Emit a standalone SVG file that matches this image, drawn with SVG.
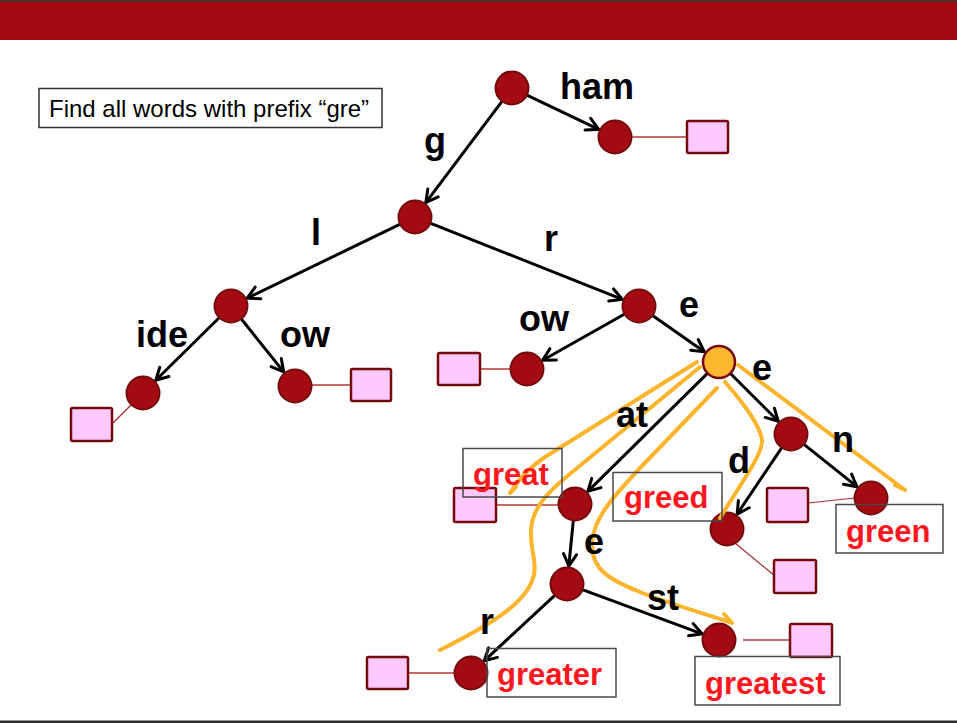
<svg xmlns="http://www.w3.org/2000/svg" width="957" height="723" viewBox="0 0 957 723">
  <style>
    .node { fill: #A30A12; stroke: #740A0C; stroke-width: 2; }
    .cur { fill: #FCB72E; stroke: #740A0C; stroke-width: 2.5; }
    .leaf { fill: #FFC8FF; stroke: #740A0C; stroke-width: 2.5; }
    .link { stroke: #CC6A6A; stroke-width: 2; fill: none; }
    .thin { stroke: #A8282C; stroke-width: 1.2; fill: none; }
    .edge { stroke: #000; stroke-width: 3; fill: none; marker-end: url(#arrow); }
    .lbl { font-family: "Liberation Sans", Arial, sans-serif; font-weight: bold; font-size: 36px; fill: #000; }
    .word { font-family: "Liberation Sans", Arial, sans-serif; font-weight: bold; font-size: 31px; fill: #FF1620; }
    .wbox { fill: none; stroke: #4A4A4A; stroke-width: 1.5; }
    .trace { stroke: #FBB42C; stroke-width: 4; fill: none; stroke-linecap: round; stroke-linejoin: round; }
  </style>
  <defs>
    <marker id="arrow" viewBox="-14 -9 16 18" refX="0" refY="0" markerWidth="16" markerHeight="18" markerUnits="userSpaceOnUse" orient="auto">
      <path d="M-12,-6.5 L0,0 L-12,6.5" fill="none" stroke="#000" stroke-width="3" stroke-linecap="round" stroke-linejoin="miter"/>
    </marker>
  </defs>

  <rect x="0" y="0" width="957" height="723" fill="#fff"/>
  <!-- title bar -->
  <rect x="0" y="0" width="957" height="40" fill="#A30A12"/>
  <rect x="0" y="0" width="957" height="1.5" fill="#3A3A3A"/>
  <!-- footer rule -->
  <rect x="0" y="720.5" width="957" height="2.5" fill="#2E2E2E"/>

  <!-- task caption -->
  <g id="caption">
    <rect x="39" y="88.5" width="343" height="39" fill="#fff" stroke="#333" stroke-width="1.5"/>
    <text x="49" y="117" font-family="Liberation Sans, Arial, sans-serif" font-size="24" fill="#000">Find all words with prefix “gre”</text>
  </g>

  <!-- value links from nodes to leaf boxes -->
  <g id="links">
    <line class="link" x1="632" y1="137" x2="687" y2="137"/>
    <line class="link" x1="312" y1="385" x2="351" y2="385"/>
    <line class="link" x1="480" y1="369" x2="510" y2="369"/>
    <line class="link" x1="496" y1="505" x2="558" y2="505"/>
    <line class="link" x1="408" y1="673" x2="455" y2="673"/>
    <line class="link" x1="743" y1="640" x2="790" y2="640"/>
    <line class="thin" x1="131" y1="405" x2="112" y2="424"/>
    <line class="thin" x1="808" y1="503" x2="855" y2="498"/>
    <line class="thin" x1="735" y1="543" x2="775" y2="576"/>
  </g>

  <!-- trie edges -->
  <g id="edges">
    <line class="edge" x1="527.4" y1="95.3" x2="598.7" y2="129.3"/>
    <line class="edge" x1="501.8" y1="101.6" x2="425.8" y2="202.6"/>
    <line class="edge" x1="399.7" y1="224.4" x2="247.2" y2="298.2"/>
    <line class="edge" x1="430.8" y1="223.3" x2="622.3" y2="299.4"/>
    <line class="edge" x1="218.9" y1="318.0" x2="155.8" y2="380.3"/>
    <line class="edge" x1="241.6" y1="319.3" x2="283.7" y2="371.9"/>
    <line class="edge" x1="624.2" y1="314.3" x2="542.7" y2="360.2"/>
    <line class="edge" x1="652.9" y1="315.7" x2="704.3" y2="351.7"/>
    <line class="edge" x1="707.2" y1="373.6" x2="587.8" y2="491.4"/>
    <line class="edge" x1="730.7" y1="373.7" x2="778.3" y2="421.3"/>
    <line class="edge" x1="781.5" y1="448.1" x2="737.1" y2="514.1"/>
    <line class="edge" x1="804.3" y1="444.6" x2="856.9" y2="486.7"/>
    <line class="edge" x1="573.3" y1="520.9" x2="568.8" y2="566.1"/>
    <line class="edge" x1="554.5" y1="595.6" x2="484.2" y2="660.8"/>
    <line class="edge" x1="583.0" y1="589.9" x2="702.1" y2="633.8"/>
  </g>

  <!-- leaf boxes -->
  <g id="leaves">
    <rect id="leaf-ham" class="leaf" x="687" y="121" width="41" height="32" rx="1.5"/>
    <rect id="leaf-glide" class="leaf" x="71" y="408" width="41" height="33" rx="1.5"/>
    <rect id="leaf-glow" class="leaf" x="351" y="369" width="40" height="32" rx="1.5"/>
    <rect id="leaf-grow" class="leaf" x="438" y="353" width="42" height="32" rx="1.5"/>
    <rect id="leaf-great" class="leaf" x="454" y="488" width="42" height="34" rx="1.5"/>
    <rect id="leaf-green" class="leaf" x="767" y="488" width="41" height="34" rx="1.5"/>
    <rect id="leaf-greed" class="leaf" x="774" y="560" width="42" height="33" rx="1.5"/>
    <rect id="leaf-greater" class="leaf" x="367" y="657" width="41" height="32" rx="1.5"/>
    <rect id="leaf-greatest" class="leaf" x="790" y="624" width="42" height="33" rx="1.5"/>
  </g>

  <!-- trie nodes -->
  <g id="n-root"><circle class="node" cx="512" cy="88" r="16.5"/></g>
  <g id="n-h"><circle class="node" cx="615" cy="137" r="16.5"/></g>
  <g id="n-g"><circle class="node" cx="415" cy="217" r="16.5"/></g>
  <g id="n-gl"><circle class="node" cx="231" cy="306" r="16.5"/></g>
  <g id="n-gli"><circle class="node" cx="143" cy="393" r="16.5"/></g>
  <g id="n-glo"><circle class="node" cx="295" cy="386" r="16.5"/></g>
  <g id="n-gr"><circle class="node" cx="639" cy="306" r="16.5"/></g>
  <g id="n-gro"><circle class="node" cx="527" cy="369" r="16.5"/></g>
  <g id="n-gre"><circle class="cur" cx="719" cy="362" r="16"/></g>
  <g id="n-grea"><circle class="node" cx="575" cy="504" r="16.5"/></g>
  <g id="n-gree"><circle class="node" cx="791" cy="434" r="16.5"/></g>
  <g id="n-greed"><circle class="node" cx="727" cy="529" r="16.5"/></g>
  <g id="n-green"><circle class="node" cx="871" cy="498" r="16.5"/></g>
  <g id="n-greate"><circle class="node" cx="567" cy="584" r="16.5"/></g>
  <g id="n-greater"><circle class="node" cx="471" cy="673" r="16.5"/></g>
  <g id="n-greatest"><circle class="node" cx="719" cy="640" r="16.5"/></g>

  <!-- search traces -->
  <g id="traces">
    <path class="trace" d="M697,362 L545,457 C530,467 518,480 510,493 M510,493 L516,487"/>
    <path class="trace" d="M700,367 L565,478 C545,495 532,510 531,530 C530,550 537,560 534,575 C528,600 500,620 440,650"/>
    <path class="trace" d="M717,388 L640,468 C612,498 592,520 592,545 C592,570 610,580 640,592 C670,604 700,612 732,623 M732,623 L724,614"/>
    <path class="trace" d="M725,382 C745,405 760,425 762,440 C764,452 740,485 720,518"/>
    <path class="trace" d="M738,365 L905,490 M905,490 L895,485"/>
  </g>

  <!-- edge labels -->
  <g id="edge-labels">
    <text class="lbl" x="560" y="99">ham</text>
    <text class="lbl" x="424" y="153">g</text>
    <text class="lbl" x="311" y="245">l</text>
    <text class="lbl" x="544" y="251">r</text>
    <text class="lbl" x="136" y="347">ide</text>
    <text class="lbl" x="280" y="347">ow</text>
    <text class="lbl" x="519" y="331">ow</text>
    <text class="lbl" x="679" y="317">e</text>
    <text class="lbl" x="752" y="380">e</text>
    <text class="lbl" x="616" y="427">at</text>
    <text class="lbl" x="728" y="473">d</text>
    <text class="lbl" x="832" y="452">n</text>
    <text class="lbl" x="584" y="554">e</text>
    <text class="lbl" x="480" y="634">r</text>
    <text class="lbl" x="647" y="610">st</text>
  </g>

  <!-- result words -->
  <g id="words">
    <g id="w-great"><rect class="wbox" x="463" y="448.5" width="99" height="48.5"/><text class="word" x="473" y="485">great</text></g>
    <g id="w-greed"><rect class="wbox" x="613" y="472.5" width="109" height="48.5"/><text class="word" x="624" y="508">greed</text></g>
    <g id="w-green"><rect class="wbox" x="836" y="504.5" width="107" height="48.5"/><text class="word" x="846" y="542">green</text></g>
    <g id="w-greater"><rect class="wbox" x="487" y="648.5" width="129" height="48.5"/><text class="word" x="497" y="685">greater</text></g>
    <g id="w-greatest"><rect class="wbox" x="695" y="656.5" width="145" height="48.5"/><text class="word" x="705" y="694">greatest</text></g>
  </g>
</svg>
